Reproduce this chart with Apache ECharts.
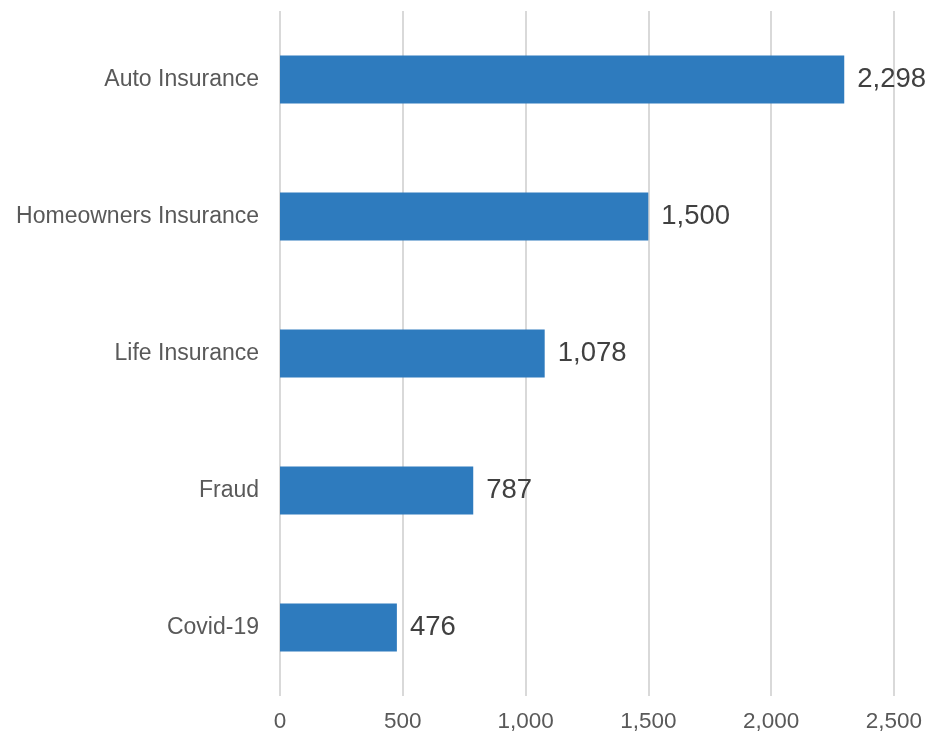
<!DOCTYPE html>
<html>
<head>
<meta charset="utf-8">
<script src="https://cdn.jsdelivr.net/npm/echarts@6/dist/echarts.min.js"></script>
<style>
html,body{margin:0;padding:0;background:#fff;}
#chart{width:925px;height:733px;}
</style>
</head>
<body>
<div id="chart"></div>
<script>
const categories = ["Auto Insurance", "Homeowners Insurance", "Life Insurance", "Fraud", "Covid-19"];
const values = [2298, 1500, 1078, 787, 476];
const xTicks = [0, 500, 1000, 1500, 2000, 2500];

function fmt(v) { return Number(v).toLocaleString('en-US'); }

const chart = echarts.init(document.getElementById('chart'), null, {renderer: 'canvas'});
chart.setOption({
  backgroundColor: '#ffffff',
  animation: false,
  grid: { left: 280, right: 31, top: 11, bottom: 37, containLabel: false },
  xAxis: {
    type: 'value',
    min: xTicks[0],
    max: xTicks[xTicks.length - 1],
    interval: 500,
    axisLine: { show: false },
    axisTick: { show: false },
    splitLine: { show: true, lineStyle: { color: '#D9D9D9', width: 2 } },
    axisLabel: {
      formatter: fmt,
      color: '#595959',
      fontSize: 22.5,
      fontFamily: 'Liberation Sans, Arial, sans-serif',
      margin: 14
    }
  },
  yAxis: {
    type: 'category',
    data: categories,
    inverse: true,
    axisLine: { show: false },
    axisTick: { show: false },
    splitLine: { show: false },
    axisLabel: {
      color: '#595959',
      fontSize: 23,
      fontFamily: 'Liberation Sans, Arial, sans-serif',
      margin: 21
    }
  },
  series: [{
    type: 'bar',
    data: values,
    barWidth: 48,
    itemStyle: { color: '#2E7BBE' },
    label: {
      show: true,
      position: 'right',
      distance: 13,
      formatter: p => fmt(p.value),
      color: '#404040',
      fontSize: 27.5,
      fontFamily: 'Liberation Sans, Arial, sans-serif'
    }
  }]
});
</script>
</body>
</html>
